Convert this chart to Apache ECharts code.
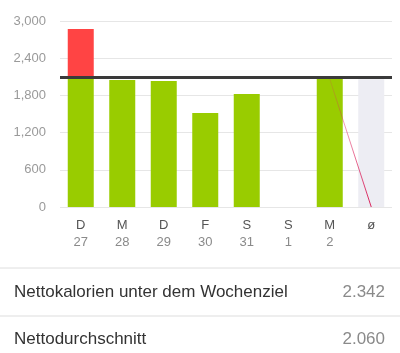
<!DOCTYPE html>
<html>
<head>
<meta charset="utf-8">
<script src="https://cdn.jsdelivr.net/npm/echarts@6/dist/echarts.min.js"></script>
<style>
  html, body { margin: 0; padding: 0; background: #fff; }
  #container { width: 400px; height: 353px; }
</style>
</head>
<body>
<div id="container"></div>
<script>
let days = ['D', 'M', 'D', 'F', 'S', 'S', 'M', 'ø'];
let dates = ['27', '28', '29', '30', '31', '1', '2', ''];
let netCalories = [2871, 2048, 2032, 1516, 1823, 0, 2065, null];
let average = 2060;
let goal = 2100;
let trendLine = [null, null, null, null, null, null, 2065, 0];
let summaryLabels = ['Nettokalorien unter dem Wochenziel', 'Nettodurchschnitt'];
let summaryValues = ['2.342', '2.060'];

let categories = days.map(function (d, i) { return d + '\n' + dates[i]; });
let underGoal = netCalories.map(function (v) { return v == null ? null : Math.min(v, goal); });
let overGoal = netCalories.map(function (v) { return v == null ? null : Math.max(0, v - goal); });
let avgBar = netCalories.map(function (v, i) { return i === days.length - 1 ? average : null; });

let dom = document.getElementById("container");
let myChart = echarts.init(dom);

let font = 'Helvetica, "Liberation Sans", Arial, sans-serif';

option = {
    animation: false,
    grid: { left: 60, right: 8, top: 21, bottom: 146 },
    xAxis: {
        type: 'category',
        data: categories,
        axisLine: { show: false },
        axisTick: { show: false },
        axisLabel: {
            margin: 10,
            lineHeight: 17,
            formatter: function (val) {
                let p = val.split('\n');
                return '{d|' + p[0] + '}\n{n|' + p[1] + '}';
            },
            rich: {
                d: { color: '#555', fontSize: 13, fontFamily: font, lineHeight: 17 },
                n: { color: '#8a8a8a', fontSize: 13, fontFamily: font, lineHeight: 17 }
            }
        }
    },
    yAxis: {
        type: 'value',
        min: 0,
        max: 3000,
        interval: 600,
        axisLabel: {
            color: '#9a9a9a',
            fontSize: 13,
            fontFamily: font,
            margin: 14,
            formatter: function (v) { return v.toLocaleString('en-US'); }
        },
        splitLine: { lineStyle: { color: '#e6e6e6', width: 1 } }
    },
    series: [
        {
            type: 'bar',
            stack: 'cal',
            barWidth: 26,
            data: underGoal,
            itemStyle: { color: '#99cc00' },
            markLine: {
                symbol: 'none',
                silent: true,
                label: { show: false },
                lineStyle: { color: '#3a3a3a', width: 3, type: 'solid' },
                data: [{ yAxis: goal }]
            }
        },
        {
            type: 'bar',
            stack: 'cal',
            barWidth: 26,
            data: overGoal,
            itemStyle: { color: '#ff4444' }
        },
        {
            type: 'bar',
            stack: 'cal',
            barWidth: 26,
            data: avgBar,
            itemStyle: { color: '#ededf3' },
            z: 1
        },
        {
            type: 'line',
            data: trendLine,
            symbol: 'none',
            z: 5,
            lineStyle: {
                width: 1,
                color: {
                    type: 'linear', x: 0, y: 0, x2: 0, y2: 1,
                    colorStops: [
                        { offset: 0, color: 'rgba(225,40,100,0.15)' },
                        { offset: 1, color: 'rgba(215,20,80,0.95)' }
                    ]
                }
            }
        }
    ],
    graphic: [
        { type: 'line', shape: { x1: 0, y1: 268, x2: 400, y2: 268 }, style: { stroke: '#dedede', lineWidth: 1 } },
        { type: 'line', shape: { x1: 0, y1: 316, x2: 400, y2: 316 }, style: { stroke: '#eeeeee', lineWidth: 2 } },
        { type: 'text', left: 14, top: 284, style: { text: summaryLabels[0], fill: '#333', fontSize: 17, fontFamily: font } },
        { type: 'text', right: 15, top: 284, style: { text: summaryValues[0], fill: '#8a8a8a', fontSize: 17, fontFamily: font } },
        { type: 'text', left: 14, top: 331, style: { text: summaryLabels[1], fill: '#333', fontSize: 17, fontFamily: font } },
        { type: 'text', right: 15, top: 331, style: { text: summaryValues[1], fill: '#8a8a8a', fontSize: 17, fontFamily: font } }
    ]
};
if (option && typeof option === "object") {
    myChart.setOption(option, true);
}
</script>
</body>
</html>
